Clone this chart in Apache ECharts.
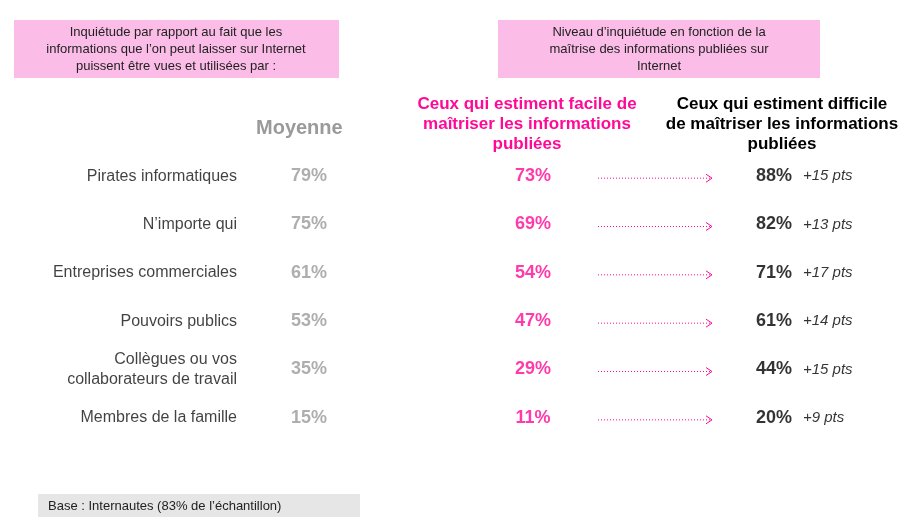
<!DOCTYPE html>
<html><head><meta charset="utf-8">
<script src="https://cdn.jsdelivr.net/npm/echarts@6/dist/echarts.min.js"></script>
<style>html,body{margin:0;background:#fff}#main{width:903px;height:517px}</style>
</head><body><div id="main"></div>
<script>
const categories = ['Pirates informatiques', 'N\u2019importe qui', 'Entreprises commerciales', 'Pouvoirs publics', 'Collègues ou vos\ncollaborateurs de travail', 'Membres de la famille'];
const moyenne = [79, 75, 61, 53, 35, 15];
const facile = [73, 69, 54, 47, 29, 11];
const difficile = [88, 82, 71, 61, 44, 20];
const ecart = [15, 13, 17, 14, 15, 9];

const F = 'Liberation Sans, Arial, sans-serif';
const chart = echarts.init(document.getElementById('main'));

function col(x, vals, fmt, style) {
  return {
    type: 'scatter', symbolSize: 0, silent: true,
    data: vals.map((v, i) => [x, i, v]),
    label: Object.assign({show: true, position: 'inside', distance: 0, fontFamily: F, formatter: p => fmt(p.value[2])}, style)
  };
}

chart.setOption({
  animation: false,
  grid: {left: 0, right: 0, top: 152, bottom: 75},
  xAxis: {type: 'value', min: 0, max: 903, show: false},
  yAxis: {type: 'category', inverse: true, data: categories, show: false},
  series: [
    col(237, categories.map((c, i) => i), i => categories[i], {position: 'left', fontSize: 16, color: '#111', align: 'right', lineHeight: 20}),
    col(309, moyenne, v => v + '%', {fontSize: 18, fontWeight: 'bold', color: '#9a9a9a'}),
    col(533, facile, v => v + '%', {fontSize: 18, fontWeight: 'bold', color: '#ff0a96'}),
    col(792, difficile, v => v + '%', {position: 'left', fontSize: 18, fontWeight: 'bold', color: '#000'}),
    col(803, ecart, v => '+' + v + ' pts', {position: 'right', fontSize: 15, fontStyle: 'italic', color: '#000'}),
    {
      type: 'custom', silent: true,
      data: facile.map((v, i) => [598, i, 712]),
      renderItem: (params, api) => {
        const a = api.coord([api.value(0), api.value(1)]);
        const b = api.coord([api.value(2), api.value(1)]);
        return {type: 'group', children: [
          {type: 'line', shape: {x1: a[0], y1: a[1] + 2, x2: b[0] - 2, y2: b[1] + 2}, style: {stroke: '#ff0a96', lineWidth: 1, lineDash: [1, 2]}},
          {type: 'polyline', shape: {points: [[b[0] - 6, b[1] - 2], [b[0], b[1] + 2], [b[0] - 6, b[1] + 6]]}, style: {stroke: '#ff0a96', lineWidth: 1, fill: null}}
        ]};
      }
    }
  ],
  graphic: [
    {type: 'rect', shape: {x: 14, y: 20, width: 325, height: 58}, style: {fill: '#fbbde8'}},
    {type: 'text', x: 176, y: 24, style: {text: 'Inquiétude par rapport au fait que les\ninformations que l\u2019on peut laisser sur Internet\npuissent être vues et utilisées par :', align: 'center', font: '13px ' + F, lineHeight: 17, fill: '#222'}},
    {type: 'rect', shape: {x: 498, y: 20, width: 322, height: 58}, style: {fill: '#fbbde8'}},
    {type: 'text', x: 659, y: 24, style: {text: 'Niveau d\u2019inquiétude en fonction de la\nmaîtrise des informations publiées sur\nInternet', align: 'center', font: '13px ' + F, lineHeight: 17, fill: '#222'}},
    {type: 'text', x: 256, y: 118, style: {text: 'Moyenne', font: 'bold 20px ' + F, fill: '#9a9a9a'}},
    {type: 'text', x: 527, y: 94, style: {text: 'Ceux qui estiment facile de\nmaîtriser les informations\npubliées', font: 'bold 17px ' + F, fill: '#ff0a96', align: 'center', lineHeight: 20}},
    {type: 'text', x: 782, y: 94, style: {text: 'Ceux qui estiment difficile\nde maîtriser les informations\npubliées', font: 'bold 17px ' + F, fill: '#000', align: 'center', lineHeight: 20}},
    {type: 'rect', shape: {x: 38, y: 494, width: 322, height: 23}, style: {fill: '#e6e6e6'}},
    {type: 'text', x: 48, y: 500, style: {text: 'Base : Internautes (83% de l\u2019échantillon)', font: '13px ' + F, fill: '#222'}}
  ]
});
</script></body></html>
